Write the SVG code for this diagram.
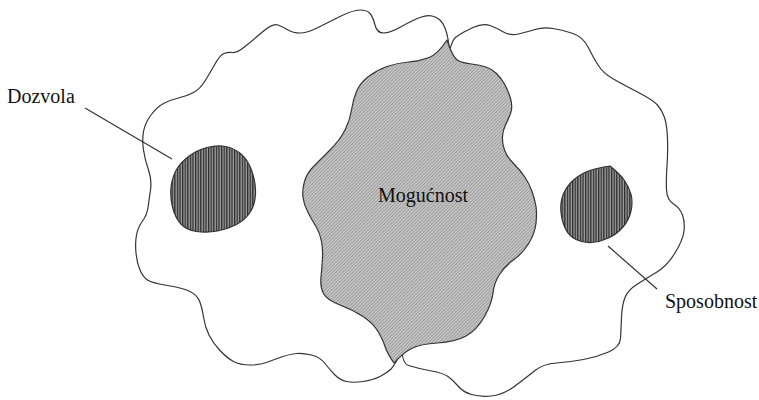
<svg xmlns="http://www.w3.org/2000/svg" width="759" height="400" viewBox="0 0 759 400">
<style>
.outline{fill:#fff;stroke:#333;stroke-width:1.2;stroke-linejoin:round}
.gray{fill:url(#hatch);stroke:#333;stroke-width:1.2;stroke-linejoin:round}
.dark{fill:url(#vstripe);stroke:#333;stroke-width:1.2;stroke-linejoin:round}
.lead{stroke:#333;stroke-width:1.2;fill:none}
.lbl{font-family:"Liberation Serif","Times New Roman",serif;font-size:20px;fill:#111}
</style>
<defs>
<pattern id="vstripe" width="2.6" height="3" patternUnits="userSpaceOnUse">
<rect width="2.6" height="3" fill="#a0a0a0"/>
<rect width="1.3" height="3" fill="#2a2a2a"/>
</pattern>
<pattern id="hatch" width="2.4" height="3" patternUnits="userSpaceOnUse" patternTransform="rotate(45)">
<rect width="2.4" height="3" fill="#c6c6c6"/>
<rect width="0.9" height="3" fill="#9a9a9a"/>
</pattern>
</defs>
<g id="left-region">
<path class="outline" d="M 136,253 Q 135,243 136.5,235 Q 138,227 142.5,221 Q 147,215 148,207.5 Q 149,200 150.5,190 Q 152,180 148.5,170 Q 145,160 143.5,150 Q 142,140 143.5,131.5 Q 145,123 151,115 Q 157,107 163.5,103.5 Q 170,100 178.5,98 Q 187,96 193.5,92.5 Q 200,89 205,81 Q 210,73 215,64 Q 220,55 224,53.5 Q 228,52 232.5,52.5 Q 237,53 245,46.5 Q 253,40 263,31.5 Q 273,23 278,25 Q 283,27 288,30 Q 293,33 300,33 Q 307,33 317,28 Q 327,23 340,16.5 Q 353,10 360,10 Q 367,10 370,13.5 Q 373,17 375,25 Q 377,33 383.5,33 Q 390,33 401.5,26.5 Q 413,20 420,17.5 Q 427,15 432,16 Q 437,17 440,20 Q 443,23 445,28 Q 447,33 448,39 Q 449,45 454.5,97.5 Q 460,150 445,225 Q 430,300 412.5,332.5 Q 395,365 391,369 Q 387,373 380,376.5 Q 373,380 363,381.5 Q 353,383 346.5,381.5 Q 340,380 335,375 Q 330,370 325,363.5 Q 320,357 311.5,355 Q 303,353 296.5,353.5 Q 290,354 281.5,357 Q 273,360 266.5,362.5 Q 260,365 250,365 Q 240,365 233.5,361.5 Q 227,358 220,350.5 Q 213,343 209,335 Q 205,327 203.5,317 Q 202,307 199.5,301 Q 197,295 190,291.5 Q 183,288 167.5,285.5 Q 152,283 147.5,280 Q 143,277 140,270 Q 137,263 136,253 Z"/>
</g>
<g id="right-region">
<path class="outline" d="M 444.5,81 Q 449,42 456,37 Q 463,32 473,27.5 Q 483,23 490,25.5 Q 497,28 503.5,32 Q 510,36 518.5,34 Q 527,32 535,29.5 Q 543,27 553,28.5 Q 563,30 573,33.5 Q 583,37 588,47 Q 593,57 598,65 Q 603,73 612.5,78.5 Q 622,84 637.5,92 Q 653,100 657.5,105 Q 662,110 664.5,117.5 Q 667,125 667.5,138.5 Q 668,152 667,166 Q 666,180 666.5,190 Q 667,200 673.5,204 Q 680,208 682.5,215 Q 685,222 684,231 Q 683,240 675,253 Q 667,266 657,272 Q 647,278 637.5,284 Q 628,290 625,297.5 Q 622,305 621.5,317.5 Q 621,330 620.5,338.5 Q 620,347 608.5,352 Q 597,357 583.5,359.5 Q 570,362 556.5,363 Q 543,364 535,370.5 Q 527,377 515,386 Q 503,395 491.5,396 Q 480,397 471.5,394.5 Q 463,392 458,386 Q 453,380 448,376.5 Q 443,373 431.5,371 Q 420,369 408.5,365.5 Q 397,362 403.5,306 Q 410,250 425,185 Q 440,120 444.5,81 Z"/>
</g>
<g id="mogucnost">
<path class="gray" d="M 447,40 Q 453,58 458,60.5 Q 463,63 471.5,64 Q 480,65 486,67 Q 492,69 496.5,73.5 Q 501,78 504.5,84 Q 508,90 510.5,98.5 Q 513,107 510.5,113.5 Q 508,120 505.5,125 Q 503,130 502.5,136.5 Q 502,143 504.5,150 Q 507,157 513.5,163.5 Q 520,170 524.5,176.5 Q 529,183 532,191.5 Q 535,200 536,206.5 Q 537,213 536,223 Q 535,233 529,243 Q 523,253 514,259.5 Q 505,266 499.5,274.5 Q 494,283 493,293 Q 492,303 484.5,316.5 Q 477,330 466,336 Q 455,342 437.5,343 Q 420,344 411.5,348.5 Q 403,353 394,363 Q 387,353 385,346.5 Q 383,340 378,331.5 Q 373,323 363,316.5 Q 353,310 340,305 Q 327,300 323.5,293.5 Q 320,287 321,277 Q 322,267 322.5,258.5 Q 323,250 321.5,241.5 Q 320,233 316,226.5 Q 312,220 308,212.5 Q 304,205 303,197.5 Q 302,190 304.5,181.5 Q 307,173 313.5,166.5 Q 320,160 330,150 Q 340,140 345,130 Q 350,120 351.5,110 Q 353,100 356.5,91.5 Q 360,83 368.5,76.5 Q 377,70 387,66.5 Q 397,63 408.5,62 Q 420,61 429,57.5 Q 438,54 447,40 Z"/>
<text class="lbl" x="378" y="202">Mogućnost</text>
</g>
<g id="dozvola">
<path class="dark" d="M 207,147.5 Q 217,145 225.5,146.5 Q 234,148 241,154 Q 248,160 252,171.5 Q 256,183 255.5,194 Q 255,205 250,212.5 Q 245,220 236.5,224.5 Q 228,229 217.5,231 Q 207,233 196.5,231.5 Q 186,230 180.5,223.5 Q 175,217 172.5,207 Q 170,197 171,187.5 Q 172,178 176,170.5 Q 180,163 188.5,156.5 Q 197,150 207,147.5 Z"/>
<text class="lbl" x="7" y="103">Dozvola</text>
</g>
<g id="sposobnost">
<path class="dark" d="M 610,166 Q 620,174 624.5,180.5 Q 629,187 631,194.5 Q 633,202 631,211 Q 629,220 623,227 Q 617,234 608.5,238 Q 600,242 591.5,242.5 Q 583,243 576,239.5 Q 569,236 565.5,229 Q 562,222 561,212.5 Q 560,203 563,195 Q 566,187 573,180.5 Q 580,174 588.5,171 Q 597,168 610,166 Z"/>
<text class="lbl" x="665" y="308">Sposobnost</text>
</g>
<g id="connectors">
<line class="lead" x1="85" y1="108" x2="172" y2="159"/>
<line class="lead" x1="608" y1="246" x2="657" y2="289"/>
</g>
</svg>
